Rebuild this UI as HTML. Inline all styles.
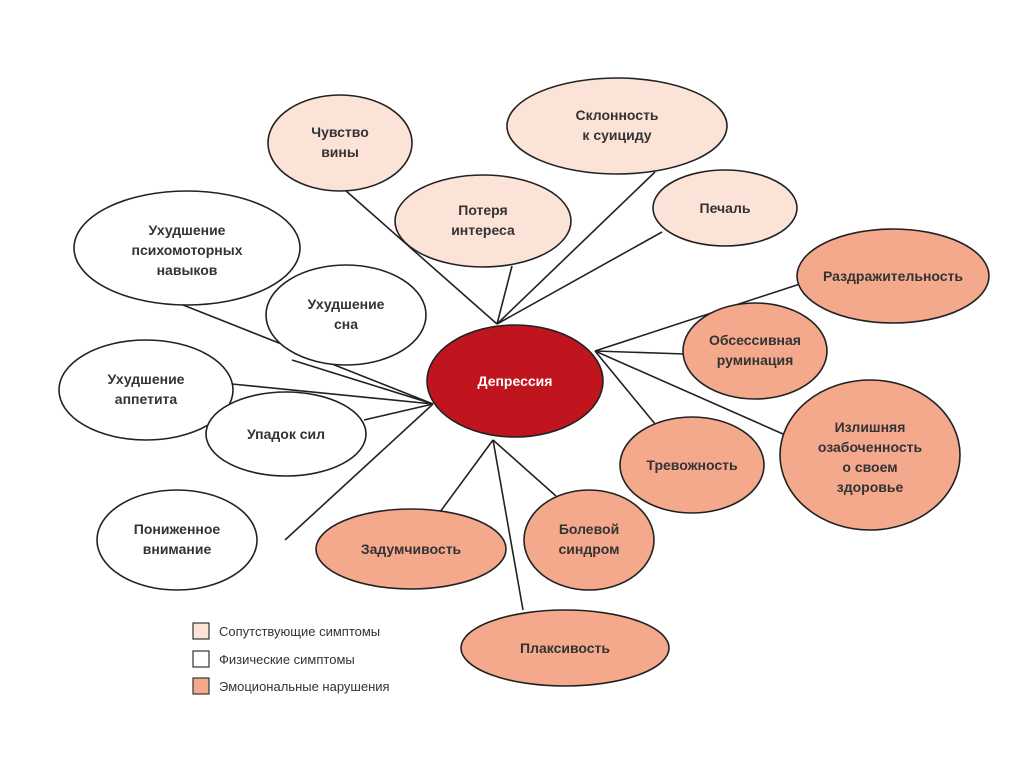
<!DOCTYPE html>
<html><head><meta charset="utf-8"><style>
body{margin:0;background:#fff}
svg text{font-family:"Liberation Sans",sans-serif;font-weight:bold;font-size:14px;fill:#333;text-anchor:middle}
</style></head><body>
<svg width="1024" height="767" viewBox="0 0 1024 767" xmlns="http://www.w3.org/2000/svg">
<g stroke="#222" stroke-width="1.6" fill="none">
<line x1="497" y1="324" x2="345" y2="190"/>
<line x1="497" y1="324" x2="655" y2="172"/>
<line x1="497" y1="324" x2="512" y2="266"/>
<line x1="497" y1="324" x2="662" y2="232"/>
<line x1="595" y1="351" x2="800" y2="284"/>
<line x1="595" y1="351" x2="685" y2="354"/>
<line x1="595" y1="351" x2="783" y2="434"/>
<line x1="595" y1="351" x2="660" y2="430"/>
<line x1="433" y1="404" x2="178" y2="303"/>
<line x1="433" y1="404" x2="292" y2="360"/>
<line x1="433" y1="404" x2="232" y2="384"/>
<line x1="433" y1="404" x2="364" y2="420"/>
<line x1="433" y1="404" x2="285" y2="540"/>
<line x1="493" y1="440" x2="440" y2="512"/>
<line x1="493" y1="440" x2="523" y2="610"/>
<line x1="493" y1="440" x2="556" y2="496"/>
</g>
<g stroke="#222" stroke-width="1.6">
<ellipse cx="340" cy="143" rx="72" ry="48" fill="#fbe3d8"/>
<ellipse cx="617" cy="126" rx="110" ry="48" fill="#fbe3d8"/>
<ellipse cx="483" cy="221" rx="88" ry="46" fill="#fbe3d8"/>
<ellipse cx="725" cy="208" rx="72" ry="38" fill="#fbe3d8"/>
<ellipse cx="187" cy="248" rx="113" ry="57" fill="#fff"/>
<ellipse cx="346" cy="315" rx="80" ry="50" fill="#fff"/>
<ellipse cx="893" cy="276" rx="96" ry="47" fill="#f4a98c"/>
<ellipse cx="755" cy="351" rx="72" ry="48" fill="#f4a98c"/>
<ellipse cx="146" cy="390" rx="87" ry="50" fill="#fff"/>
<ellipse cx="286" cy="434" rx="80" ry="42" fill="#fff"/>
<ellipse cx="870" cy="455" rx="90" ry="75" fill="#f4a98c"/>
<ellipse cx="692" cy="465" rx="72" ry="48" fill="#f4a98c"/>
<ellipse cx="177" cy="540" rx="80" ry="50" fill="#fff"/>
<ellipse cx="411" cy="549" rx="95" ry="40" fill="#f4a98c"/>
<ellipse cx="589" cy="540" rx="65" ry="50" fill="#f4a98c"/>
<ellipse cx="565" cy="648" rx="104" ry="38" fill="#f4a98c"/>
<ellipse cx="515" cy="381" rx="88" ry="56" fill="#c0141e"/>
</g>
<text x="515" y="386" style="fill:#fff">Депрессия</text>
<text x="340" y="137">Чувство</text><text x="340" y="157">вины</text>
<text x="617" y="120">Склонность</text><text x="617" y="140">к суициду</text>
<text x="483" y="215">Потеря</text><text x="483" y="235">интереса</text>
<text x="725" y="213">Печаль</text>
<text x="187" y="235">Ухудшение</text><text x="187" y="255">психомоторных</text><text x="187" y="275">навыков</text>
<text x="346" y="309">Ухудшение</text><text x="346" y="329">сна</text>
<text x="893" y="281">Раздражительность</text>
<text x="755" y="345">Обсессивная</text><text x="755" y="365">руминация</text>
<text x="146" y="384">Ухудшение</text><text x="146" y="404">аппетита</text>
<text x="286" y="439">Упадок сил</text>
<text x="870" y="432">Излишняя</text><text x="870" y="452">озабоченность</text><text x="870" y="472">о своем</text><text x="870" y="492">здоровье</text>
<text x="692" y="470">Тревожность</text>
<text x="177" y="534">Пониженное</text><text x="177" y="554">внимание</text>
<text x="411" y="554">Задумчивость</text>
<text x="589" y="534">Болевой</text><text x="589" y="554">синдром</text>
<text x="565" y="653">Плаксивость</text>
<g stroke="#333" stroke-width="1.2">
<rect x="193" y="623" width="16" height="16" fill="#fbe3d8"/>
<rect x="193" y="651" width="16" height="16" fill="#fff"/>
<rect x="193" y="678" width="16" height="16" fill="#f4a98c"/>
</g>
<g style="font-weight:normal;text-anchor:start;font-size:13px">
<text x="219" y="636" style="font-weight:normal;text-anchor:start;font-size:13px">Сопутствующие симптомы</text>
<text x="219" y="664" style="font-weight:normal;text-anchor:start;font-size:13px">Физические симптомы</text>
<text x="219" y="691" style="font-weight:normal;text-anchor:start;font-size:13px">Эмоциональные нарушения</text>
</g>
</svg>
</body></html>
